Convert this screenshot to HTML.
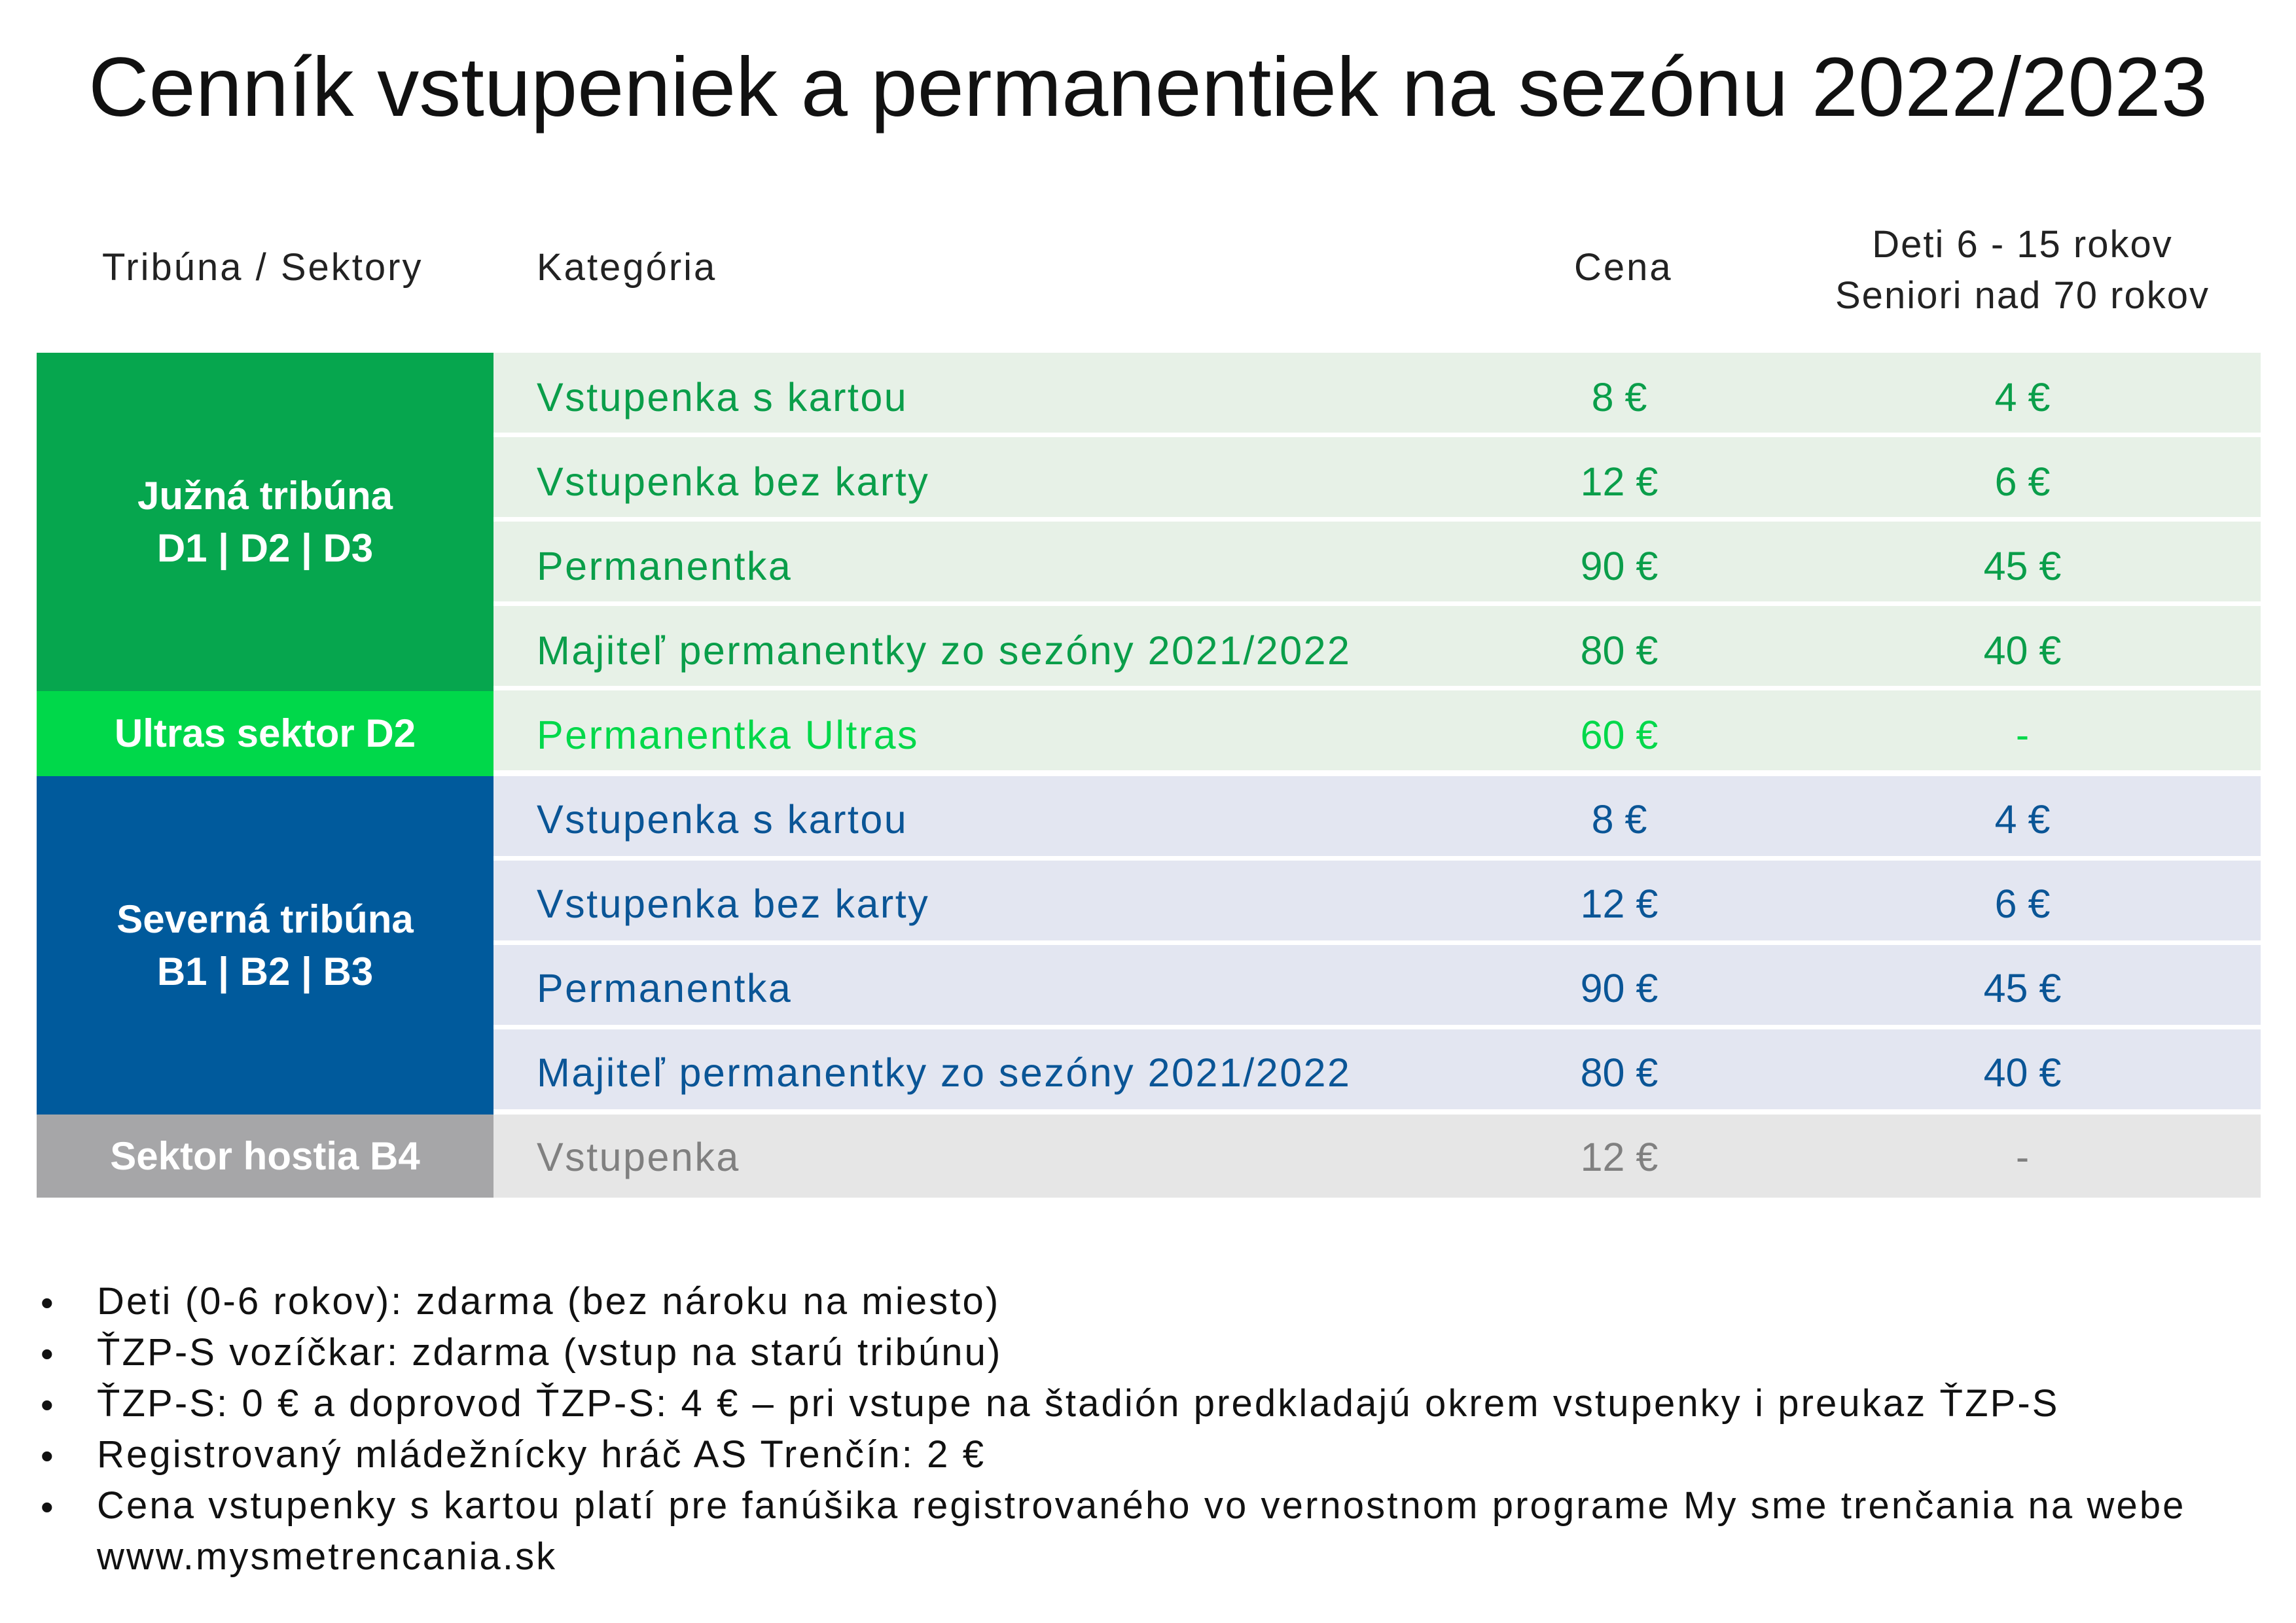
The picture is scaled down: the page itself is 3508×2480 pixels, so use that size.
<!DOCTYPE html>
<html><head><meta charset="utf-8"><style>
body{margin:0;width:3508px;height:2480px;background:#fff;font-family:"Liberation Sans",sans-serif;position:relative;overflow:hidden}
div{position:absolute;white-space:nowrap}
.t{left:0;width:3508px;top:60px;text-align:center;font-size:128px;color:#111;letter-spacing:0px}
.h{font-size:58px;color:#222;letter-spacing:3px}
.c{line-height:129px;font-size:61px}
.l{left:56px;width:698px;color:#fff;font-weight:bold;text-align:center;font-size:60px;display:flex;align-items:center;justify-content:center;white-space:normal;line-height:80px}
.r{left:754px;width:2700px;height:122px}
.n{font-size:58px;color:#111;left:148px;letter-spacing:3.1px}
.b{font-size:56px;color:#111;left:62px}
</style></head><body>
<div class="t">Cenník vstupeniek a permanentiek na sezónu 2022/2023</div>
<div class="h" style="left:156px;top:375px">Tribúna / Sektory</div>
<div class="h" style="left:820px;top:375px">Kategória</div>
<div class="h" style="left:2405px;top:375px">Cena</div>
<div class="h" style="left:2680px;top:335px;width:820px;text-align:center;line-height:78px;letter-spacing:2px">Deti 6 - 15 rokov<br>Seniori nad 70 rokov</div>

<div class="l" style="top:539px;height:517px;background:#06a64e">Južná tribúna<br>D1 | D2 | D3</div>
<div class="l" style="top:1056px;height:130px;background:#00d84a">Ultras sektor D2</div>
<div class="l" style="top:1186px;height:517px;background:#005a9c">Severná tribúna<br>B1 | B2 | B3</div>
<div class="l" style="top:1703px;height:127px;background:#a6a6a8">Sektor hostia B4</div>

<div class="r" style="top:539px;background:#e7f1e7"></div>
<div class="r" style="top:668px;background:#e7f1e7"></div>
<div class="r" style="top:797px;background:#e7f1e7"></div>
<div class="r" style="top:926px;background:#e7f1e7"></div>
<div class="r" style="top:1055px;background:#e7f1e7"></div>
<div class="r" style="top:1186px;background:#e3e6f1"></div>
<div class="r" style="top:1315px;background:#e3e6f1"></div>
<div class="r" style="top:1444px;background:#e3e6f1"></div>
<div class="r" style="top:1573px;background:#e3e6f1"></div>
<div class="r" style="top:1703px;height:127px;background:#e6e6e6"></div>

<div class="c" style="left:820px;top:543px;color:#0a9e4a;letter-spacing:2.5px">Vstupenka s kartou<br>Vstupenka bez karty<br>Permanentka<br>Majiteľ permanentky zo sezóny 2021/2022<br><span style="color:#00d84a">Permanentka Ultras</span><br><span style="color:#0a5596">Vstupenka s kartou<br>Vstupenka bez karty<br>Permanentka<br>Majiteľ permanentky zo sezóny 2021/2022</span><br><span style="color:#808080">Vstupenka</span></div>
<div class="c" style="left:2274px;width:400px;text-align:center;top:543px;color:#0a9e4a">8 €<br>12 €<br>90 €<br>80 €<br><span style="color:#00d84a">60 €</span><br><span style="color:#0a5596">8 €<br>12 €<br>90 €<br>80 €</span><br><span style="color:#808080">12 €</span></div>
<div class="c" style="left:2890px;width:400px;text-align:center;top:543px;color:#0a9e4a">4 €<br>6 €<br>45 €<br>40 €<br><span style="color:#00d84a">-</span><br><span style="color:#0a5596">4 €<br>6 €<br>45 €<br>40 €</span><br><span style="color:#808080">-</span></div>

<div class="b" style="top:1952px;line-height:78px">•<br>•<br>•<br>•<br>•</div>
<div class="n" style="top:1950px;line-height:78px">Deti (0-6 rokov): zdarma (bez nároku na miesto)<br>ŤZP-S vozíčkar: zdarma (vstup na starú tribúnu)<br>ŤZP-S: 0 € a doprovod ŤZP-S: 4 € – pri vstupe na štadión predkladajú okrem vstupenky i preukaz ŤZP-S<br>Registrovaný mládežnícky hráč AS Trenčín: 2 €<br>Cena vstupenky s kartou platí pre fanúšika registrovaného vo vernostnom programe My sme trenčania na webe<br>www.mysmetrencania.sk</div>
</body></html>
